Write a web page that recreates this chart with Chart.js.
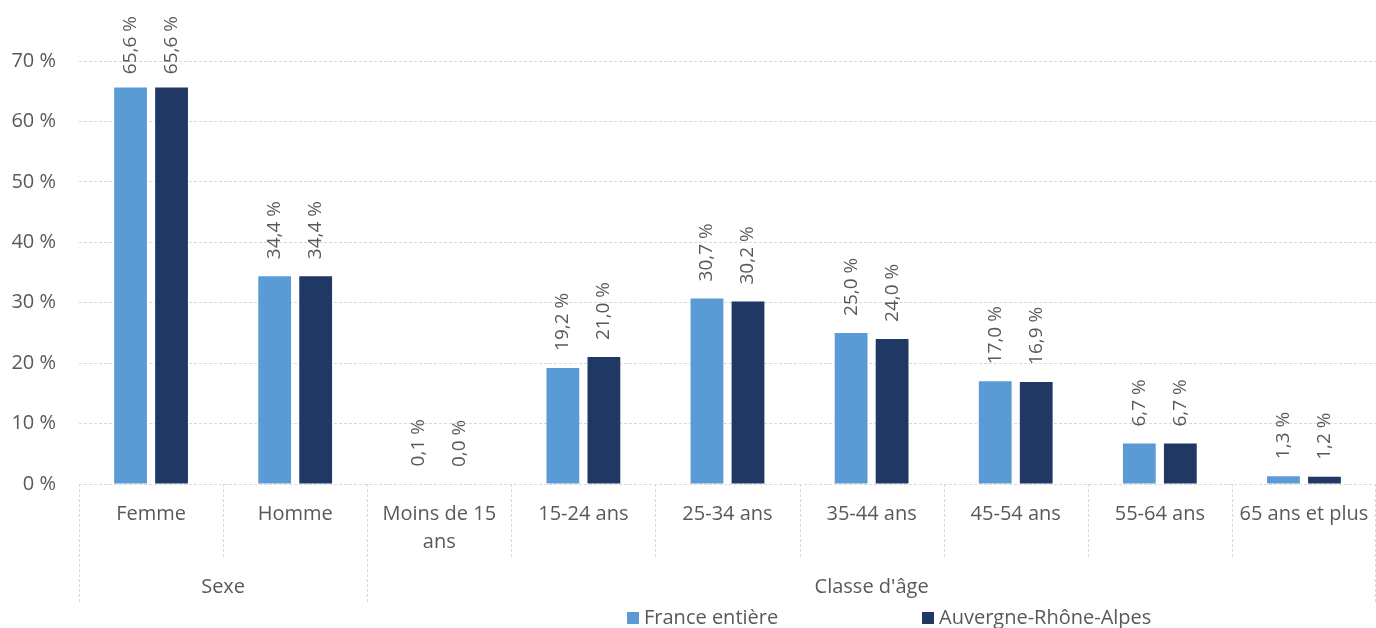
<!DOCTYPE html>
<html lang="fr">
<head>
<meta charset="utf-8">
<title>Répartition par sexe et classe d'âge</title>
<script src="https://cdn.jsdelivr.net/npm/chart.js@4.4.1/dist/chart.umd.min.js"></script>
<style>
  html, body { margin: 0; padding: 0; background: #fff; overflow: hidden; }
  #wrap { width: 1376px; height: 628px; position: relative; }
</style>
</head>
<body>
<div id="wrap"><canvas id="graphique"></canvas></div>
<script>
// Catégories de l'axe X (libellés sur deux lignes si besoin)
const categories = ["Femme", "Homme", ["Moins de 15", "ans"], "15-24 ans", "25-34 ans", "35-44 ans", "45-54 ans", "55-64 ans", "65 ans et plus"];
// Regroupement des catégories
const groupes = ["Sexe", "Classe d'âge"];
const tailleGroupes = [2, 7];
// Séries (%)
const seriesNoms = ["France entière", "Auvergne-Rhône-Alpes"];
const franceEntiere = [65.6, 34.4, 0.1, 19.2, 30.7, 25.0, 17.0, 6.7, 1.3];
const auvergneRhoneAlpes = [65.6, 34.4, 0.0, 21.0, 30.2, 24.0, 16.9, 6.7, 1.2];
// Graduations de l'axe Y
const graduationsY = [0, 10, 20, 30, 40, 50, 60, 70];

const couleurs = ["#5B9BD5", "#1F3864"];
const gris = "#595959";
const grille = "#D9D9D9";
const police = "'Open Sans', sans-serif";

const formatPct = v => v.toFixed(1).replace(".", ",") + " %";

// Étiquettes de valeur verticales au-dessus des barres
const etiquettes = {
  id: "etiquettes",
  afterDatasetsDraw(chart) {
    const ctx = chart.ctx;
    ctx.save();
    ctx.font = "19px " + police;
    ctx.fillStyle = gris;
    ctx.textBaseline = "middle";
    ctx.textAlign = "left";
    chart.data.datasets.forEach((ds, i) => {
      chart.getDatasetMeta(i).data.forEach((bar, j) => {
        const txt = formatPct(ds.data[j]);
        const w = ctx.measureText(txt).width;
        const debut = Math.max(bar.y - 17, 16 + w);
        ctx.save();
        ctx.translate(bar.x, debut);
        ctx.rotate(-Math.PI / 2);
        ctx.fillText(txt, 0, 0);
        ctx.restore();
      });
    });
    ctx.restore();
  }
};

// Séparateurs de l'axe X, libellés de groupe et légende
const axeGroupes = {
  id: "axeGroupes",
  afterDraw(chart) {
    const ctx = chart.ctx;
    const area = chart.chartArea;
    const larg = (area.right - area.left) / categories.length;
    const bas = area.bottom;
    ctx.save();
    ctx.strokeStyle = grille;
    ctx.lineWidth = 1;
    ctx.setLineDash([3, 2]);

    // limites de groupe
    const limites = [0];
    tailleGroupes.forEach(n => limites.push(limites[limites.length - 1] + n));

    for (let i = 0; i <= categories.length; i++) {
      const px = Math.min(Math.round(area.left + i * larg) + 0.5, area.right - 0.5);
      const fin = limites.includes(i) ? 603 : 558;
      ctx.beginPath();
      ctx.moveTo(px, bas);
      ctx.lineTo(px, fin);
      ctx.stroke();
    }

    ctx.setLineDash([]);
    ctx.font = "20px " + police;
    ctx.fillStyle = gris;
    ctx.textAlign = "center";
    ctx.textBaseline = "middle";
    groupes.forEach((g, k) => {
      const cx = area.left + (limites[k] + limites[k + 1]) / 2 * larg;
      ctx.fillText(g, cx, 587);
    });

    // légende
    const legX = [627, 922];
    ctx.textAlign = "left";
    seriesNoms.forEach((nom, k) => {
      ctx.fillStyle = couleurs[k];
      ctx.fillRect(legX[k], 612, 12, 12);
      ctx.fillStyle = gris;
      ctx.fillText(nom, legX[k] + 17, 618);
    });
    ctx.restore();
  }
};

new Chart(document.getElementById("graphique"), {
  type: "bar",
  data: {
    labels: categories,
    datasets: [
      { label: seriesNoms[0], data: franceEntiere, backgroundColor: couleurs[0] },
      { label: seriesNoms[1], data: auvergneRhoneAlpes, backgroundColor: couleurs[1] }
    ]
  },
  options: {
    responsive: true,
    maintainAspectRatio: false,
    animation: false,
    categoryPercentage: 0.569,
    barPercentage: 0.8,
    layout: { padding: { top: 61, right: 0, bottom: 0, left: 0 } },
    plugins: {
      legend: { display: false },
      tooltip: { enabled: false }
    },
    scales: {
      x: {
        grid: { display: false },
        border: { display: false },
        ticks: {
          color: gris,
          font: { family: police, size: 20, lineHeight: 1.4 },
          padding: 8,
          maxRotation: 0,
          autoSkip: false
        },
        afterFit: s => {
          s.height = 144;
          s.paddingLeft = 0;
          s.paddingRight = 0;
        }
      },
      y: {
        min: 0,
        max: 70,
        afterBuildTicks: s => { s.ticks = graduationsY.map(v => ({ value: v })); },
        grid: { color: grille, drawTicks: false },
        border: { display: false, dash: [3, 2] },
        ticks: {
          color: gris,
          font: { family: police, size: 20 },
          padding: 23,
          callback: v => v + " %"
        },
        afterFit: s => { s.width = 79; }
      }
    }
  },
  plugins: [etiquettes, axeGroupes]
});
</script>
</body>
</html>
